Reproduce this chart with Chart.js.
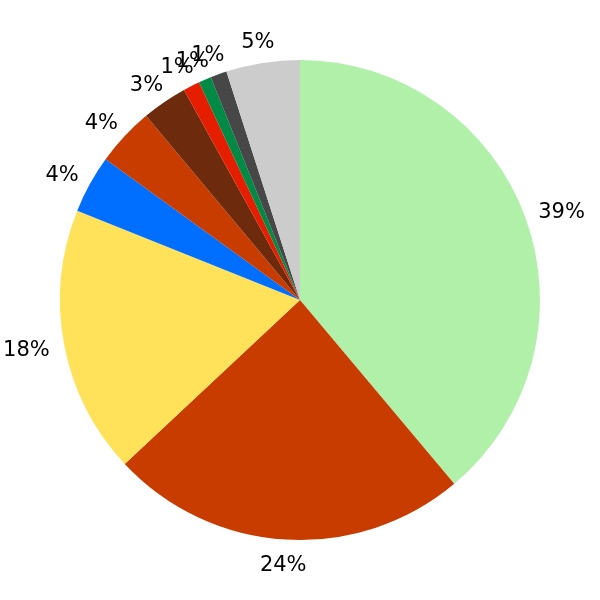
<!DOCTYPE html>
<html>
<head>
<meta charset="utf-8">
<script src="https://cdn.jsdelivr.net/npm/chart.js@4"></script>
<style>
  html, body { margin: 0; padding: 0; background: #fff; }
  canvas { display: block; }
</style>
</head>
<body>
<canvas id="myChart" width="600" height="600"></canvas>
<script>
// slice shares in percent, clockwise from 12 o'clock
const values = [38.89, 24.14, 18.04, 3.90, 3.95, 3.05, 1.12, 0.85, 1.10, 4.96];
const colors = ["#b0f0a8", "#c83c00", "#ffe15a", "#006eff", "#c83c00",
                "#6e2a0c", "#e61e00", "#008a46", "#474747", "#cccccc"];
const labels = values.map(v => Math.round(v) + '%');

// draws each percent label just outside its slice
const outsideLabels = {
    id: 'outsideLabels',
    afterDatasetsDraw(chart) {
        const ctx = chart.ctx;
        const arcs = chart.getDatasetMeta(0).data;
        ctx.save();
        ctx.font = '21px "DejaVu Sans"';
        ctx.fillStyle = '#000';
        ctx.textAlign = 'center';
        ctx.textBaseline = 'alphabetic';
        arcs.forEach((arc, i) => {
            const p = arc.getProps(['x', 'y', 'startAngle', 'endAngle', 'outerRadius'], true);
            const mid = (p.startAngle + p.endAngle) / 2;
            const c = Math.cos(mid), s = Math.sin(mid);
            const m = ctx.measureText(labels[i]);
            const w = m.width, h = m.actualBoundingBoxAscent;
            const r = p.outerRadius + 15;
            const cx = p.x + c * r + c * w / 2;
            const cy = p.y + s * r + s * h / 2;
            ctx.fillText(labels[i], cx, cy + h / 2);
        });
        ctx.restore();
    }
};

new Chart(document.getElementById('myChart'), {
    type: 'pie',
    data: {
        labels: labels,
        datasets: [{
            data: values,
            backgroundColor: colors,
            borderWidth: 0
        }]
    },
    options: {
        responsive: false,
        animation: false,
        layout: { padding: 60 },
        plugins: {
            legend: { display: false },
            tooltip: { enabled: false }
        }
    },
    plugins: [outsideLabels]
});
</script>
</body>
</html>
